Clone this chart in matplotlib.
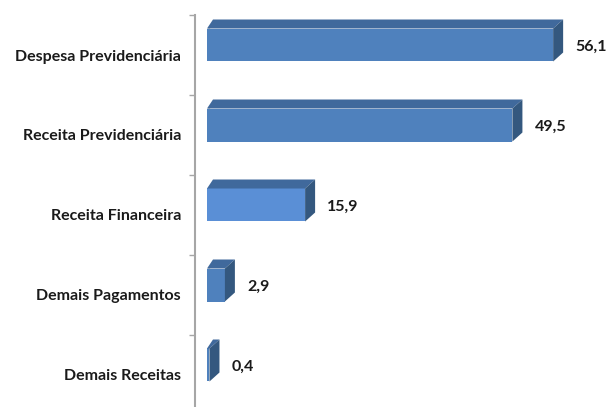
import numpy as np
import matplotlib
matplotlib.use('Agg')
import matplotlib.pyplot as plt
from matplotlib.patches import Polygon

categories = ['Despesa Previdenciária', 'Receita Previdenciária', 'Receita Financeira',
              'Demais Pagamentos', 'Demais Receitas']
values = [56.1, 49.5, 15.9, 2.9, 0.4]
value_labels = ['56,1', '49,5', '15,9', '2,9', '0,4']

plt.rcParams['font.family'] = ['Lato', 'DejaVu Sans']

W, H = 606, 407
fig = plt.figure(figsize=(W / 100, H / 100), dpi=100)
# axes in pixel placement: left spine at x=195, top at y=15
ax = fig.add_axes([195 / W, 0, 411 / W, (H - 15) / H])

px_x = 6.17            # pixels per unit of value
px_y = 80.0            # pixels per category
ax.set_xlim(-12 / px_x, -12 / px_x + 411 / px_x)
ax.set_ylim(-0.5 + (H - 15) / px_y, -0.5)

front = '#4f81bd'
front_light = '#5a8fd6'
top_c = '#40699c'
side_c = '#34587f'

dx = 10 / px_x
dy = 9 / px_y
h = 33 / px_y

for i, (v, lab) in enumerate(zip(values, value_labels)):
    yc = i - 10 / px_y
    top = yc - h / 2
    bot = yc + h / 2
    fc = front_light if i == 2 else front
    # small shadow on the left end
    ax.add_patch(Polygon([(0, top + 0.02), (0, top + 0.09), (dx * 0.5, top - dy * 0.5)],
                         closed=True, fc='#b8b8b8', ec='none', alpha=0.7))
    ax.barh(yc, v, height=h, left=0, color=fc, edgecolor='none')
    ax.add_patch(Polygon([(0, top), (v, top), (v + dx, top - dy), (dx * 0.6, top - dy)],
                         closed=True, fc=top_c, ec='none'))
    ax.add_patch(Polygon([(v, top), (v + dx, top - dy), (v + dx, bot - dy), (v, bot)],
                         closed=True, fc=side_c, ec='none'))
    ax.text(v + dx + 12 / px_x, yc + 2 / px_y, lab, ha='left', va='center',
            fontsize=11.5, fontweight='bold', color='#1a1a1a')

for s in ['top', 'right', 'bottom']:
    ax.spines[s].set_visible(False)
ax.spines['left'].set_color('#a6a6a6')
ax.spines['left'].set_linewidth(1.5)

ax.set_yticks(np.arange(len(categories)) - 0.5)
ax.set_yticklabels([])
ax.tick_params(axis='y', which='major', length=4, color='#a6a6a6', width=1)
ax.set_yticks(np.arange(len(categories)), minor=True)
ax.set_yticklabels(categories, minor=True, fontsize=11.5, fontweight='bold', color='#1a1a1a')
ax.tick_params(axis='y', which='minor', length=0, pad=10)
ax.set_xticks([])

fig.savefig('out.png', dpi=100)
